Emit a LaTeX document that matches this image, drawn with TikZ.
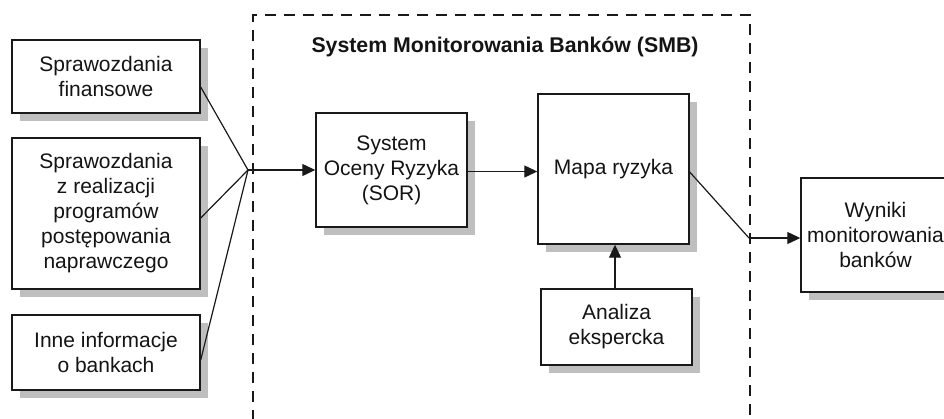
\documentclass[tikz,border=0pt]{standalone}
\usepackage{fontspec}
\setmainfont{Liberation Sans}
\usetikzlibrary{arrows.meta,shadows,calc}

\tikzset{
  blok/.style={draw=black!90, line width=1.4pt, fill=white, inner sep=0pt,
    align=center, font=\fontsize{21}{25}\selectfont, text=black!92,
    drop shadow={shadow xshift=7.5pt, shadow yshift=-8pt, fill=black!25, opacity=1}},
  link/.style={draw=black!90, line width=1.2pt},
  arrowlink/.style={link, -{Triangle[length=13pt,width=12pt]}},
  ramka/.style={draw=black!90, line width=2pt, dash pattern=on 11pt off 8pt},
}

\begin{document}
\begin{tikzpicture}[x=1pt,y=-1pt]
  \useasboundingbox (0,0) rectangle (944,418);
  \clip (0,0) rectangle (944,418);

  % dashed frame of the monitoring system (open at the bottom)
  \draw[ramka] (253,440) -- (253,15) -- (750,15) -- (750,440);
  \node[font=\bfseries\fontsize{21.3}{25}\selectfont, text=black!92] (smb) at (505,47)
    {System Monitorowania Banków (SMB)};

  % input boxes
  \node[blok, minimum width=188pt, minimum height=73pt] (fin) at (106,76.5)
    {Sprawozdania\\finansowe};
  \node[blok, minimum width=188pt, minimum height=151pt] (napr) at (106,213.5)
    {Sprawozdania\\z realizacji\\programów\\postępowania\\naprawczego};
  \node[blok, minimum width=188pt, minimum height=75pt] (inne) at (106,352.5)
    {Inne informacje\\o bankach};

  % inside the system
  \node[blok, minimum width=151pt, minimum height=114pt] (sor) at (391.5,170)
    {System\\Oceny Ryzyka\\(SOR)};
  \node[blok, minimum width=151pt, minimum height=150pt] (mapa) at (613.5,169)
    {Mapa ryzyka};
  \node[blok, minimum width=151pt, minimum height=76pt] (ekspert) at (616.5,327)
    {Analiza\\ekspercka};

  % output
  \node[blok, minimum width=149pt, minimum height=114pt] (wyniki) at (875.5,235)
    {Wyniki\\monitorowania\\banków};

  % connectors
  \coordinate (zbieg) at (248,170);
  \coordinate (wyjscie) at (749,238);
  \draw[link] ([yshift=-10.5pt]fin.east) -- (zbieg);
  \draw[link] ([yshift=-4.5pt]napr.east) -- (zbieg);
  \draw[link] ([yshift=-7.5pt]inne.east) -- (zbieg);
  \draw[arrowlink] (zbieg) -- (sor.west);
  \draw[arrowlink] ([yshift=-1.5pt]sor.east) -- ([yshift=-1.5pt]sor.east -| mapa.west);
  \draw[arrowlink] ([xshift=-1.5pt]ekspert.north) -- ([xshift=-1.5pt]ekspert.north |- mapa.south);
  \draw[link] ([yshift=-3pt]mapa.east) -- (wyjscie);
  \draw[arrowlink] (wyjscie) -- (wyjscie -| wyniki.west);
\end{tikzpicture}
\end{document}
